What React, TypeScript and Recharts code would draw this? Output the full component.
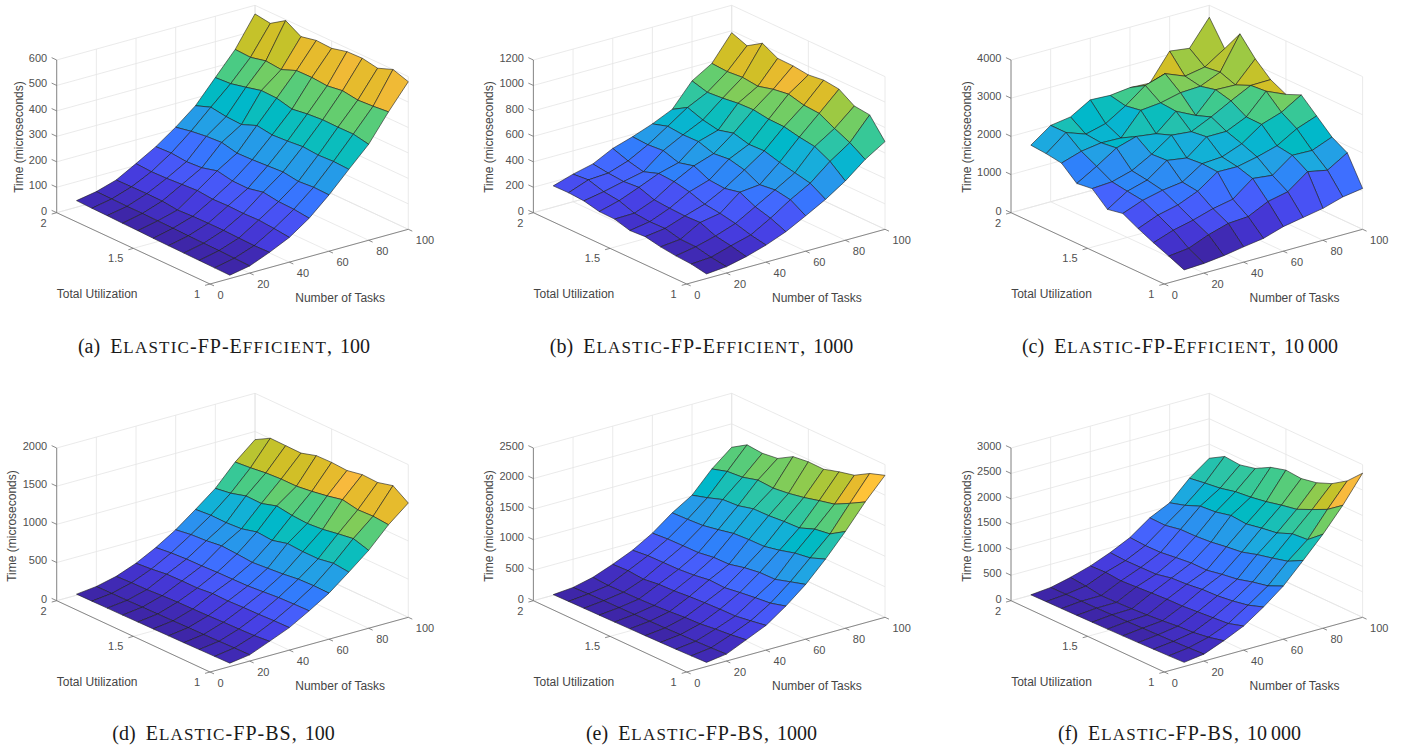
import React from "react";
import { Scatter, ScatterChart, XAxis, YAxis } from "recharts";

const tasks = [10, 20, 30, 40, 50, 60, 70, 80, 90, 100];
const utilizations = [1, 1.1, 1.2, 1.3, 1.4, 1.5, 1.6, 1.7, 1.8, 1.9, 2];
const taskTicks = [0, 20, 40, 60, 80, 100];
const utilTicks = [1, 1.5, 2];

// one row per task count, one value per utilization
const efficient100 = [
  [13, 14, 15, 16, 17, 18, 20, 21, 23, 24, 26],
  [28, 30, 32, 33, 34, 36, 37, 38, 38, 39, 40],
  [60, 58, 60, 62, 62, 61, 58, 65, 66, 65, 64],
  [97, 104, 109, 107, 109, 107, 113, 109, 105, 103, 107],
  [151, 158, 160, 169, 156, 157, 169, 153, 149, 155, 152],
  [221, 223, 218, 227, 223, 219, 217, 231, 227, 219, 207],
  [300, 303, 300, 305, 299, 295, 304, 280, 283, 292, 270],
  [377, 389, 388, 389, 384, 375, 390, 392, 377, 363, 359],
  [483, 477, 473, 482, 473, 478, 477, 453, 459, 445, 448],
  [580, 600, 577, 588, 586, 571, 574, 561, 596, 557, 566],
];
const efficient1000 = [
  [36, 58, 66, 81, 105, 97, 131, 134, 162, 170, 168],
  [50, 68, 94, 97, 126, 123, 134, 176, 191, 228, 217],
  [86, 115, 136, 186, 181, 186, 196, 238, 228, 238, 254],
  [134, 157, 191, 215, 231, 272, 296, 304, 262, 291, 333],
  [196, 246, 280, 338, 312, 322, 377, 346, 385, 375, 382],
  [278, 348, 369, 354, 414, 443, 430, 469, 466, 477, 440],
  [364, 435, 461, 487, 521, 516, 548, 516, 540, 582, 511],
  [466, 563, 624, 642, 668, 671, 689, 684, 668, 658, 692],
  [592, 668, 723, 786, 794, 825, 807, 775, 789, 778, 786],
  [689, 843, 857, 933, 948, 933, 948, 951, 1014, 938, 985],
];
const efficient10000 = [
  [226, 400, 565, 748, 957, 878, 1235, 1183, 1530, 1591, 1626],
  [252, 461, 748, 957, 1157, 1209, 1270, 1487, 1696, 2000, 2000],
  [313, 670, 870, 1078, 1278, 1357, 1417, 1826, 1774, 1814, 2078],
  [400, 826, 1026, 1296, 1348, 1730, 1704, 1983, 1757, 1948, 2383],
  [478, 861, 1130, 1661, 1687, 1650, 2061, 1913, 2339, 2270, 2357],
  [643, 1113, 1530, 1652, 1722, 2061, 2009, 2357, 2391, 2660, 2417],
  [739, 1226, 1470, 1765, 1922, 2061, 2252, 2104, 2513, 2826, 2391],
  [835, 1609, 1852, 1913, 2287, 2296, 2530, 2635, 2539, 2617, 3087],
  [991, 1504, 1835, 2217, 2461, 2826, 2791, 2617, 2765, 2713, 3017],
  [1070, 1817, 2043, 2409, 2774, 2600, 2800, 3157, 3626, 3052, 3687],
];
const bs100 = [
  [44, 40, 36, 32, 29, 26, 23, 20, 18, 16, 14],
  [82, 78, 72, 68, 64, 60, 56, 52, 48, 45, 43],
  [187, 169, 161, 156, 148, 143, 139, 130, 117, 113, 104],
  [295, 291, 282, 278, 269, 273, 252, 252, 247, 221, 204],
  [443, 438, 430, 412, 395, 390, 386, 377, 373, 360, 338],
  [603, 607, 599, 573, 555, 538, 555, 568, 542, 529, 499],
  [807, 829, 794, 794, 807, 755, 772, 720, 707, 711, 694],
  [1020, 1080, 1050, 1015, 998, 1011, 1041, 980, 985, 928, 898],
  [1284, 1302, 1293, 1332, 1288, 1254, 1228, 1228, 1215, 1189, 1171],
  [1497, 1631, 1579, 1588, 1549, 1562, 1557, 1497, 1501, 1505, 1393],
];
const bs1000 = [
  [68, 58, 50, 44, 38, 34, 28, 24, 20, 16, 10],
  [114, 100, 90, 82, 74, 68, 62, 58, 54, 48, 38],
  [259, 222, 200, 168, 157, 135, 119, 108, 103, 97, 114],
  [405, 362, 324, 319, 308, 292, 270, 259, 227, 249, 238],
  [632, 562, 535, 503, 465, 476, 438, 416, 411, 405, 378],
  [897, 822, 746, 741, 703, 643, 638, 600, 595, 589, 568],
  [1222, 1124, 1086, 1016, 962, 957, 941, 886, 838, 822, 811],
  [1584, 1427, 1389, 1292, 1281, 1259, 1254, 1189, 1173, 1086, 1011],
  [1978, 1838, 1708, 1649, 1584, 1535, 1503, 1519, 1449, 1427, 1351],
  [2324, 2238, 2092, 2032, 1957, 1962, 1930, 1784, 1751, 1773, 1616],
];
const bs10000 = [
  [82, 70, 60, 50, 42, 35, 30, 24, 18, 14, 8],
  [136, 120, 105, 95, 85, 75, 68, 60, 55, 50, 45],
  [292, 220, 175, 156, 123, 97, 78, 65, 58, 104, 136],
  [473, 382, 356, 330, 305, 298, 279, 259, 240, 266, 253],
  [739, 635, 577, 538, 525, 486, 467, 402, 395, 389, 408],
  [1043, 907, 842, 758, 713, 655, 655, 622, 583, 577, 596],
  [1439, 1283, 1205, 1134, 1043, 1005, 959, 933, 927, 868, 875],
  [1847, 1601, 1575, 1452, 1406, 1348, 1374, 1303, 1277, 1154, 1063],
  [2307, 2087, 1944, 1808, 1750, 1679, 1627, 1594, 1523, 1484, 1439],
  [2832, 2540, 2346, 2223, 2165, 2191, 2106, 1944, 1873, 1899, 1724],
];

const parula = [
  [0.2422, 0.1504, 0.6603], [0.2504, 0.165, 0.7076], [0.2578, 0.1818, 0.7511], [0.2647, 0.1978, 0.7952],
  [0.2706, 0.2147, 0.8364], [0.2751, 0.2342, 0.871], [0.2783, 0.2559, 0.8991], [0.2803, 0.2782, 0.9221],
  [0.2813, 0.3006, 0.9414], [0.281, 0.3228, 0.9579], [0.2795, 0.3447, 0.9717], [0.276, 0.3667, 0.9829],
  [0.2699, 0.3892, 0.9906], [0.2602, 0.4123, 0.9952], [0.244, 0.4358, 0.9988], [0.2206, 0.4603, 0.9973],
  [0.1963, 0.4847, 0.9892], [0.1834, 0.5074, 0.9798], [0.1786, 0.5289, 0.9682], [0.1764, 0.5499, 0.952],
  [0.1687, 0.5703, 0.9359], [0.154, 0.5902, 0.9218], [0.146, 0.6091, 0.9079], [0.138, 0.6276, 0.8973],
  [0.1248, 0.6459, 0.8883], [0.1113, 0.6635, 0.8763], [0.0952, 0.6798, 0.8598], [0.0689, 0.6948, 0.8394],
  [0.0297, 0.7082, 0.8163], [0.0036, 0.7203, 0.7917], [0.0067, 0.7312, 0.766], [0.0433, 0.7411, 0.7394],
  [0.0964, 0.75, 0.712], [0.1408, 0.7584, 0.6842], [0.1717, 0.767, 0.6554], [0.1938, 0.7758, 0.6251],
  [0.2161, 0.7843, 0.5923], [0.247, 0.7918, 0.5567], [0.2906, 0.7973, 0.5188], [0.3406, 0.8008, 0.4789],
  [0.3909, 0.8029, 0.4354], [0.4456, 0.8024, 0.3909], [0.5044, 0.7993, 0.348], [0.5616, 0.7942, 0.3045],
  [0.6174, 0.7876, 0.2612], [0.672, 0.7793, 0.2227], [0.7242, 0.7698, 0.191], [0.7738, 0.7598, 0.1646],
  [0.8203, 0.7498, 0.1535], [0.8634, 0.7406, 0.1596], [0.9035, 0.733, 0.1774], [0.9393, 0.7288, 0.21],
  [0.9728, 0.7298, 0.2394], [0.9956, 0.7434, 0.2371], [0.997, 0.7659, 0.2199], [0.9952, 0.7861, 0.199],
  [0.9892, 0.8136, 0.1885], [0.9786, 0.8386, 0.1766], [0.9676, 0.8639, 0.1643], [0.961, 0.889, 0.1537],
  [0.9597, 0.9135, 0.1423], [0.9628, 0.9373, 0.1265], [0.9691, 0.9606, 0.1064], [0.9769, 0.9839, 0.0805],
];

const W = 450;
const H = 310;
const GRID = "#e4e4e4";
const AXIS = "#6e6e6e";
const TICK_TEXT = "#505050";
const TITLE_TEXT = "#454545";

const panels = [
  { id: "a", left: 0, top: 0, ox: 210, oy: 284, zMax: 600, zStep: 100, zTitleX: 18.5, values: efficient100, name: "Elastic-FP-Efficient", size: ", 100", capX: 224 },
  { id: "b", left: 470, top: 0, ox: 216.7, oy: 284, zMax: 1200, zStep: 200, zTitleX: 19, values: efficient1000, name: "Elastic-FP-Efficient", size: ", 1000", capX: 701.5 },
  { id: "c", left: 950, top: 0, ox: 214.3, oy: 284, zMax: 4000, zStep: 1000, zTitleX: 17, values: efficient10000, name: "Elastic-FP-Efficient", size: ", 10\u2009000", capX: 1180 },
  { id: "d", left: 0, top: 389, ox: 210, oy: 283, zMax: 2000, zStep: 500, zTitleX: 12, values: bs100, name: "Elastic-FP-BS", size: ", 100", capX: 223.5 },
  { id: "e", left: 470, top: 389, ox: 216.7, oy: 283, zMax: 2500, zStep: 500, zTitleX: 19, values: bs1000, name: "Elastic-FP-BS", size: ", 1000", capX: 701.5 },
  { id: "f", left: 950, top: 389, ox: 214.3, oy: 283, zMax: 3000, zStep: 500, zTitleX: 17, values: bs10000, name: "Elastic-FP-BS", size: ", 10\u2009000", capX: 1179.5 },
];

type Panel = (typeof panels)[number];

// MATLAB default 3-D view, flattened to chart coordinates
function project(p: Panel, t: number, u: number, z: number) {
  return {
    x: p.ox + 1.983 * t - 153.3 * (u - 1),
    y: p.oy - 0.547 * t - 71.3 * (u - 1) - (152.7 * z) / p.zMax,
  };
}

function colorOf(v: number, lo: number, hi: number) {
  const i = Math.min(63, Math.floor(((v - lo) / (hi - lo)) * 64));
  const [r, g, b] = parula[i];
  return `rgb(${Math.round(r * 255)},${Math.round(g * 255)},${Math.round(b * 255)})`;
}

const NoMark = () => <g />;

const faceShape = (fill: string) => (props: any) => (
  <polygon
    points={props.points.map((q: any) => `${q.x},${q.y}`).join(" ")}
    fill={fill}
    stroke="#1c1c1c"
    strokeWidth={0.6}
    strokeLinejoin="round"
  />
);

const TextMark = (props: any) => {
  const { cx, cy, payload } = props;
  return (
    <text
      x={cx}
      y={cy}
      textAnchor={payload.anchor}
      dominantBaseline="central"
      fontFamily="'Liberation Sans', Arial, sans-serif"
      fontSize={payload.size}
      fill={payload.color}
      transform={payload.rotate ? `rotate(${payload.rotate} ${cx} ${cy})` : undefined}
    >
      {payload.text}
    </text>
  );
};

function Surface({ panel }: { panel: Panel }) {
  const p = panel;
  const zTicks: number[] = [];
  for (let z = 0; z <= p.zMax; z += p.zStep) zTicks.push(z);

  const gridLines: { a: any; b: any }[] = [];
  taskTicks.forEach((t) => {
    gridLines.push({ a: project(p, t, 2, 0), b: project(p, t, 2, p.zMax) });
    gridLines.push({ a: project(p, t, 1, 0), b: project(p, t, 2, 0) });
  });
  utilTicks.forEach((u) => {
    gridLines.push({ a: project(p, 100, u, 0), b: project(p, 100, u, p.zMax) });
    gridLines.push({ a: project(p, 0, u, 0), b: project(p, 100, u, 0) });
  });
  zTicks.forEach((z) => {
    gridLines.push({ a: project(p, 0, 2, z), b: project(p, 100, 2, z) });
    gridLines.push({ a: project(p, 100, 2, z), b: project(p, 100, 1, z) });
  });

  const axisLines = [
    { a: project(p, 0, 2, 0), b: project(p, 0, 2, p.zMax) },
    { a: project(p, 0, 1, 0), b: project(p, 0, 2, 0) },
    { a: project(p, 0, 1, 0), b: project(p, 100, 1, 0) },
    ...zTicks.map((z) => ({ a: project(p, 0, 2, z), b: project(p, 0, 2.033, z) })),
    ...utilTicks.map((u) => ({ a: project(p, 0, u, 0), b: project(p, -2.5, u, 0) })),
    ...taskTicks.map((t) => ({ a: project(p, t, 1, 0), b: project(p, t, 0.974, 0) })),
  ];

  const all = p.values.flat();
  const lo = Math.min(...all);
  const hi = Math.max(...all);

  const faces: { key: string; fill: string; pts: any[] }[] = [];
  for (let i = tasks.length - 2; i >= 0; i--) {
    for (let j = utilizations.length - 2; j >= 0; j--) {
      faces.push({
        key: `${i}-${j}`,
        fill: colorOf(p.values[i][j], lo, hi),
        pts: [
          project(p, tasks[i], utilizations[j], p.values[i][j]),
          project(p, tasks[i + 1], utilizations[j], p.values[i + 1][j]),
          project(p, tasks[i + 1], utilizations[j + 1], p.values[i + 1][j + 1]),
          project(p, tasks[i], utilizations[j + 1], p.values[i][j + 1]),
        ],
      });
    }
  }

  const base = project(p, 0, 2, 0);
  const labels = [
    ...zTicks.map((z) => {
      const q = project(p, 0, 2, z);
      return { x: q.x - 9.5, y: q.y - 2.2, text: String(z), anchor: "end", size: 11, color: TICK_TEXT, rotate: 0 };
    }),
    ...utilTicks.map((u) => {
      const q = project(p, 0, u, 0);
      return { x: q.x - 10, y: q.y + 10, text: String(u), anchor: "end", size: 11, color: TICK_TEXT, rotate: 0 };
    }),
    ...taskTicks.map((t) => {
      const q = project(p, t, 1, 0);
      return { x: q.x + 7.5, y: q.y + 11, text: String(t), anchor: "start", size: 11, color: TICK_TEXT, rotate: 0 };
    }),
    { x: base.x + 40.5, y: base.y + 81, text: "Total Utilization", anchor: "middle", size: 12, color: TITLE_TEXT, rotate: 0 },
    { x: base.x + 283.5, y: base.y + 85, text: "Number of Tasks", anchor: "middle", size: 12, color: TITLE_TEXT, rotate: 0 },
    { x: p.zTitleX, y: 137, text: "Time (microseconds)", anchor: "middle", size: 12, color: TITLE_TEXT, rotate: -90 },
  ];

  return (
    <div style={{ position: "absolute", left: p.left, top: p.top, width: W, height: H }}>
      <ScatterChart width={W} height={H} margin={{ top: 0, right: 0, bottom: 0, left: 0 }}>
        <XAxis type="number" dataKey="x" hide domain={[0, W]} />
        <YAxis type="number" dataKey="y" hide domain={[0, H]} reversed />
        {gridLines.map((g, i) => (
          <Scatter key={`g${i}`} data={[g.a, g.b]} line={{ stroke: GRID, strokeWidth: 0.8 }} shape={NoMark} isAnimationActive={false} />
        ))}
        {axisLines.map((g, i) => (
          <Scatter key={`a${i}`} data={[g.a, g.b]} line={{ stroke: AXIS, strokeWidth: 0.8 }} shape={NoMark} isAnimationActive={false} />
        ))}
        {faces.map((f) => (
          <Scatter key={f.key} data={f.pts} line={faceShape(f.fill)} shape={NoMark} isAnimationActive={false} />
        ))}
        <Scatter data={labels} shape={TextMark} isAnimationActive={false} />
      </ScatterChart>
    </div>
  );
}

// LaTeX-style small caps: capitals at full size, the rest as smaller, wider capitals
function SmallCaps({ text }: { text: string }) {
  const parts = text.split(/([a-z]+)/);
  return (
    <>
      {parts.map((s, i) =>
        /^[a-z]+$/.test(s) ? (
          <span key={i} style={{ fontSize: 17, letterSpacing: 1.2 }}>
            {s.toUpperCase()}
          </span>
        ) : (
          <span key={i} style={{ letterSpacing: 1 }}>
            {s}
          </span>
        )
      )}
    </>
  );
}

function Caption({ panel, y }: { panel: Panel; y: number }) {
  return (
    <div
      style={{
        position: "absolute",
        left: panel.capX - 220,
        width: 440,
        top: y,
        textAlign: "center",
        fontFamily: "'Liberation Serif', 'Times New Roman', serif",
        fontSize: 20,
        lineHeight: "24px",
        color: "#1a1a1a",
        whiteSpace: "pre",
      }}
    >
      {`(${panel.id})  `}
      <SmallCaps text={panel.name} />
      <span style={{ wordSpacing: 3 }}>{panel.size}</span>
    </div>
  );
}

export default function App() {
  return (
    <div style={{ position: "fixed", left: 0, top: 0, width: 1407, height: 747, background: "#fff", overflow: "hidden" }}>
      {panels.map((p) => (
        <Surface key={p.id} panel={p} />
      ))}
      {panels.map((p, i) => (
        <Caption key={p.id} panel={p} y={i < 3 ? 334 : 721} />
      ))}
    </div>
  );
}
